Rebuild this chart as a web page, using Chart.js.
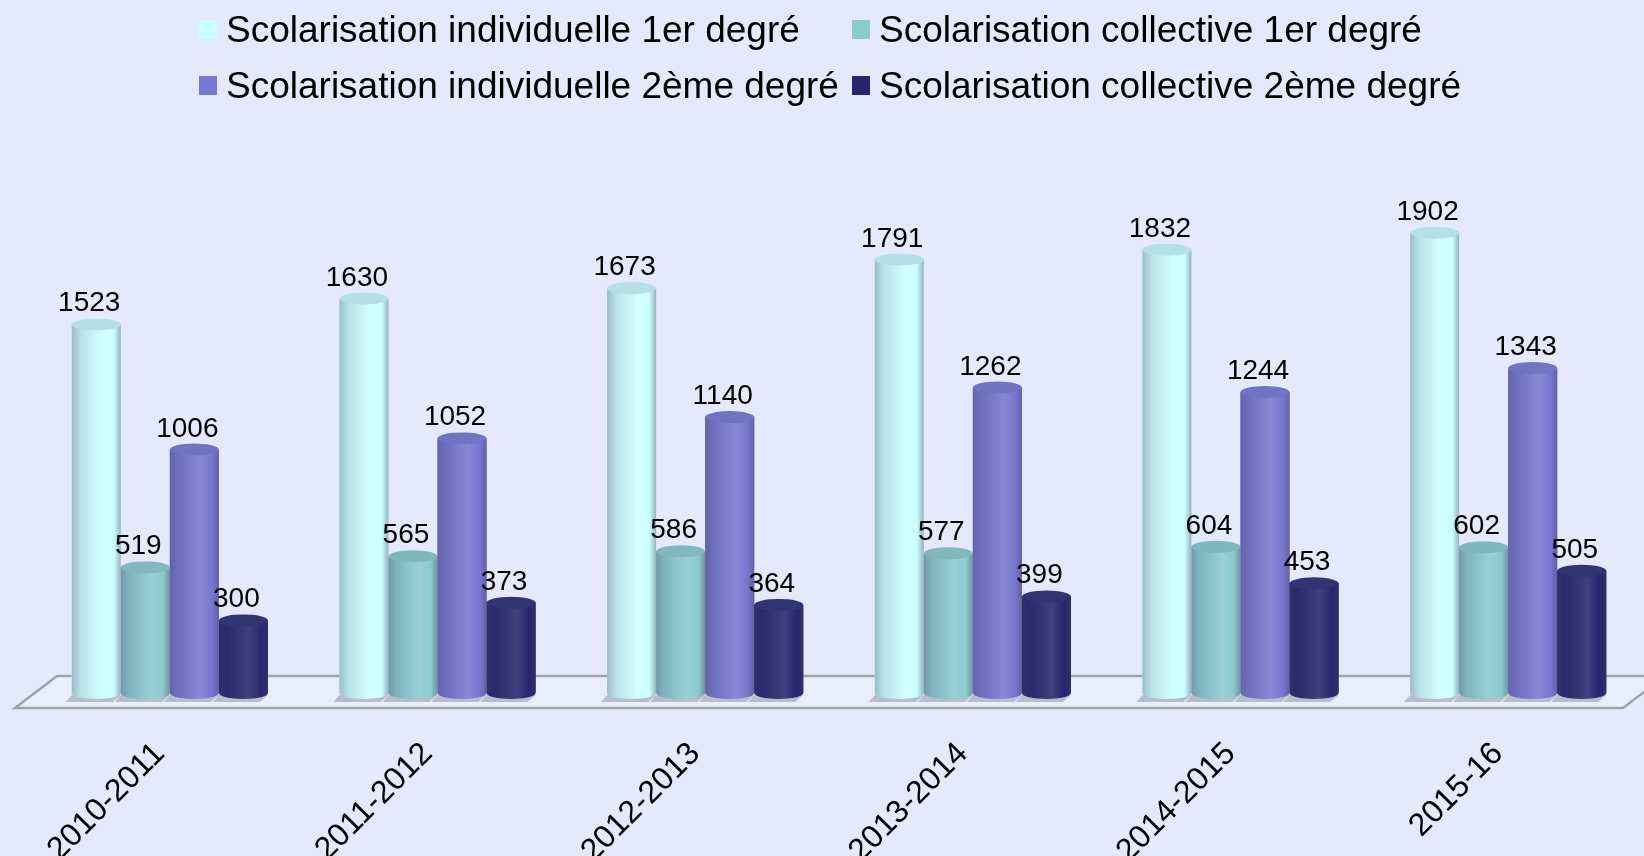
<!DOCTYPE html>
<html lang="fr">
<head>
<meta charset="utf-8" />
<title>Scolarisation</title>
<script src="https://cdn.jsdelivr.net/npm/chart.js@4/dist/chart.umd.min.js"></script>
<style>
  html, body { margin: 0; padding: 0; background: #E4EAFC; overflow: hidden; }
  canvas { display: block; }
</style>
</head>
<body>
<canvas id="scol" width="1644" height="856"></canvas>
<script>
var years = ["2010-2011", "2011-2012", "2012-2013", "2013-2014", "2014-2015", "2015-16"];
var indiv1 = [1523, 1630, 1673, 1791, 1832, 1902];
var coll1 = [519, 565, 586, 577, 604, 602];
var indiv2 = [1006, 1052, 1140, 1262, 1244, 1343];
var coll2 = [300, 373, 364, 399, 453, 505];

var seriesNames = [
  "Scolarisation individuelle 1er degré",
  "Scolarisation collective 1er degré",
  "Scolarisation individuelle 2ème degré",
  "Scolarisation collective 2ème degré"
];
var seriesColors = ["#CCFFFF", "#8CCACE", "#7777D0", "#26266E"];

function mix(hex, target, t) {
  var a = parseInt(hex.slice(1), 16), b = parseInt(target.slice(1), 16);
  var r = Math.round(((a >> 16) & 255) * (1 - t) + ((b >> 16) & 255) * t);
  var g = Math.round(((a >> 8) & 255) * (1 - t) + ((b >> 8) & 255) * t);
  var bl = Math.round((a & 255) * (1 - t) + (b & 255) * t);
  return "rgb(" + r + "," + g + "," + bl + ")";
}

// floor under the bars, drawn before datasets
var floorPlugin = {
  id: "floor",
  beforeDatasetsDraw: function(chart) {
    var c = chart.ctx, a = chart.chartArea;
    var back = a.bottom - 17, front = a.bottom + 15;
    c.save();
    c.beginPath();
    c.moveTo(a.left - 21, front);
    c.lineTo(a.left + 21, back);
    c.lineTo(a.right + 23, back);
    c.lineTo(a.right - 19, front);
    c.closePath();
    c.fillStyle = "#E8EEFC";
    c.fill();
    c.strokeStyle = "#9EA3AA";
    c.lineWidth = 2.5;
    c.stroke();
    c.restore();
  }
};

// cylinders + value labels over chart.js bars
var cylinderPlugin = {
  id: "cylinders",
  afterDatasetsDraw: function(chart) {
    var c = chart.ctx;
    c.save();
    chart.data.datasets.forEach(function(ds, di) {
      var meta = chart.getDatasetMeta(di);
      var col = seriesColors[di];
      meta.data.forEach(function(el) {
        var w = el.width, x0 = el.x - w / 2, ry = 6;
        // shadow on the floor
        c.fillStyle = "rgba(90,100,120,0.35)";
        c.beginPath();
        c.moveTo(x0 - 6, el.base + 9);
        c.lineTo(x0 + w - 8, el.base + 9);
        c.lineTo(x0 + w, el.base + 2);
        c.lineTo(x0, el.base + 2);
        c.closePath();
        c.fill();
        var g = c.createLinearGradient(x0, 0, x0 + w, 0);
        g.addColorStop(0, mix(col, "#404060", 0.35));
        g.addColorStop(0.18, mix(col, "#404060", 0.15));
        g.addColorStop(0.62, mix(col, "#FFFFFF", 0.12));
        g.addColorStop(0.86, col);
        g.addColorStop(1, mix(col, "#404060", 0.4));
        c.fillStyle = g;
        c.fillRect(x0, el.y, w, el.base - el.y);
        c.beginPath();
        c.ellipse(el.x, el.base, w / 2, ry, 0, 0, Math.PI);
        c.fill();
        c.beginPath();
        c.ellipse(el.x, el.y, w / 2, ry, 0, 0, Math.PI * 2);
        c.fillStyle = mix(col, "#5A6A80", 0.2);
        c.fill();
      });
    });
    c.font = "28px 'Liberation Sans', Arial, sans-serif";
    c.fillStyle = "#000";
    c.textAlign = "center";
    c.textBaseline = "alphabetic";
    chart.data.datasets.forEach(function(ds, di) {
      chart.getDatasetMeta(di).data.forEach(function(el, i) {
        c.fillText(String(ds.data[i]), el.x - 7, el.y - 13);
      });
    });
    c.restore();
  }
};

// two-column legend at the top
var legendPlugin = {
  id: "colLegend",
  afterDraw: function(chart) {
    var c = chart.ctx;
    var colX = [199, 852], baseY = [42, 98];
    c.save();
    c.font = "37px 'Liberation Sans', Arial, sans-serif";
    c.textBaseline = "alphabetic";
    c.textAlign = "left";
    chart.data.datasets.forEach(function(ds, i) {
      var x = colX[i % 2], y = baseY[Math.floor(i / 2)];
      c.fillStyle = seriesColors[i];
      c.fillRect(x, y - 22, 18, 19);
      c.fillStyle = "#000";
      c.fillText(ds.label, x + 27, y);
    });
    c.restore();
  }
};

var values = [indiv1, coll1, indiv2, coll2];
var datasets = values.map(function(v, i) {
  return {
    label: seriesNames[i],
    data: v,
    backgroundColor: seriesColors[i],
    borderWidth: 0,
    barPercentage: 1.0,
    categoryPercentage: 0.733
  };
});

new Chart(document.getElementById("scol").getContext("2d"), {
  type: "bar",
  data: { labels: years, datasets: datasets },
  options: {
    responsive: false,
    devicePixelRatio: 1,
    animation: false,
    layout: { padding: { top: 209, left: 36, right: 2, bottom: 0 } },
    plugins: {
      legend: { display: false },
      tooltip: { enabled: false }
    },
    scales: {
      x: {
        grid: { display: false },
        border: { display: false },
        ticks: {
          color: "#000",
          font: { size: 32, family: "'Liberation Sans', Arial, sans-serif" },
          minRotation: 45,
          maxRotation: 45,
          padding: 34,
          labelOffset: -10
        },
        afterFit: function(s) { s.height = 163; }
      },
      y: { display: false, min: 0, max: 2000 }
    }
  },
  plugins: [floorPlugin, cylinderPlugin, legendPlugin]
});
</script>
</body>
</html>
